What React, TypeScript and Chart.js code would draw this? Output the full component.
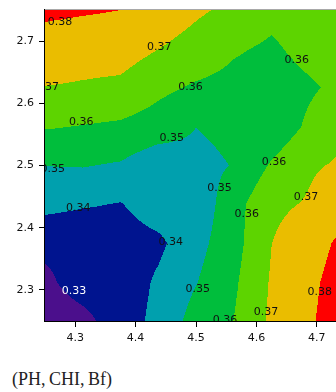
import React, { useEffect, useLayoutEffect, useRef } from 'react';
import { Chart, registerables } from 'chart.js';

Chart.register(...registerables);

// Grid of the response surface (PH on x, CHI on y)
const xGrid = [4.25, 4.3125, 4.375, 4.4375, 4.5, 4.5625, 4.625, 4.6875, 4.75];
const yGrid = [2.25, 2.3125, 2.375, 2.4375, 2.5, 2.5625, 2.625, 2.6875, 2.75];

// Bf values, one row per CHI level (bottom to top), one entry per PH level
const zRow0 = [0.325, 0.3275, 0.3346, 0.343, 0.3538, 0.3601, 0.3718, 0.3788, 0.3859];
const zRow1 = [0.3282, 0.3339, 0.334, 0.3415, 0.3496, 0.3584, 0.371, 0.378, 0.3849];
const zRow2 = [0.3319, 0.3323, 0.3355, 0.338, 0.3467, 0.3564, 0.3699, 0.376, 0.3828];
const zRow3 = [0.343, 0.3409, 0.3395, 0.3451, 0.3433, 0.3562, 0.368, 0.3709, 0.3779];
const zRow4 = [0.3501, 0.3505, 0.349, 0.3433, 0.3466, 0.3505, 0.3611, 0.3688, 0.3716];
const zRow5 = [0.3608, 0.3596, 0.3584, 0.3555, 0.3501, 0.353, 0.3532, 0.3618, 0.3696];
const zRow6 = [0.3698, 0.3689, 0.3678, 0.3623, 0.3587, 0.3569, 0.355, 0.3586, 0.3632];
const zRow7 = [0.3755, 0.3745, 0.3745, 0.3701, 0.3663, 0.3611, 0.3585, 0.3632, 0.366];
const zRow8 = [0.382, 0.381, 0.38, 0.376, 0.3715, 0.3679, 0.3627, 0.365, 0.367];
const zRows = [zRow0, zRow1, zRow2, zRow3, zRow4, zRow5, zRow6, zRow7, zRow8];

// Contour levels and band colours (below first level ... above last level)
const levels = [0.33, 0.34, 0.35, 0.36, 0.37, 0.38];
const bandColors = ['#4b0f8c', '#00148f', '#00a0ae', '#00be3c', '#5dd400', '#eabd00', '#ff0000'];

// Contour labels
const labelText = ['0.38', '0.37', '0.36', '0.35', '0.34', '0.33', '0.37', '0.36', '0.35', '0.36', '0.36', '0.35', '0.36', '0.37', '0.34', '0.35', '0.36', '0.37', '0.38'];
const labelX = [4.275, 4.253, 4.31, 4.263, 4.305, 4.298, 4.439, 4.491, 4.46, 4.667, 4.629, 4.539, 4.584, 4.682, 4.458, 4.503, 4.548, 4.616, 4.705];
const labelY = [2.731, 2.626, 2.57, 2.494, 2.432, 2.298, 2.691, 2.626, 2.544, 2.669, 2.506, 2.463, 2.421, 2.449, 2.376, 2.301, 2.252, 2.265, 2.297];

// Axis ticks
const xTickValues = [4.3, 4.4, 4.5, 4.6, 4.7];
const yTickValues = [2.3, 2.4, 2.5, 2.6, 2.7];
const xRange = [4.25, 4.75];
const yRange = [2.25, 2.75];

function hexToRgb(h: string) {
  const n = parseInt(h.slice(1), 16);
  return [(n >> 16) & 255, (n >> 8) & 255, n & 255];
}

function locate(grid: number[], v: number) {
  let k = 0;
  while (k < grid.length - 2 && v > grid[k + 1]) k++;
  let t = (v - grid[k]) / (grid[k + 1] - grid[k]);
  if (t < 0) t = 0;
  if (t > 1) t = 1;
  return [k, t];
}

function zAt(x: number, y: number) {
  const [i, tx] = locate(xGrid, x);
  const [j, ty] = locate(yGrid, y);
  const z00 = zRows[j][i], z10 = zRows[j][i + 1];
  const z01 = zRows[j + 1][i], z11 = zRows[j + 1][i + 1];
  const b = z00 + (z10 - z00) * tx;
  const t = z01 + (z11 - z01) * tx;
  return b + (t - b) * ty;
}

const contourPlugin = {
  id: 'contourFill',
  beforeDatasetsDraw(chart: any) {
    const { ctx, chartArea, scales } = chart;
    const xs = scales.x, ys = scales.y;
    const dpr = chart.currentDevicePixelRatio || 1;
    const left = Math.round(chartArea.left * dpr);
    const top = Math.round(chartArea.top * dpr);
    const w = Math.round(chartArea.right * dpr) - left;
    const h = Math.round(chartArea.bottom * dpr) - top;
    const img = ctx.createImageData(w, h);
    const rgb = bandColors.map(hexToRgb);
    const xv: number[] = [];
    for (let px = 0; px < w; px++) xv.push(xs.getValueForPixel((left + px + 0.5) / dpr));
    for (let py = 0; py < h; py++) {
      const yv = ys.getValueForPixel((top + py + 0.5) / dpr);
      for (let px = 0; px < w; px++) {
        const z = zAt(xv[px], yv);
        let b = 0;
        while (b < levels.length && z >= levels[b]) b++;
        const c = rgb[b];
        const o = (py * w + px) * 4;
        img.data[o] = c[0];
        img.data[o + 1] = c[1];
        img.data[o + 2] = c[2];
        img.data[o + 3] = 255;
      }
    }
    ctx.putImageData(img, left, top);
  },
  afterDatasetsDraw(chart: any) {
    const { ctx, chartArea, scales } = chart;
    ctx.save();
    ctx.beginPath();
    ctx.rect(chartArea.left, chartArea.top, chartArea.right - chartArea.left, chartArea.bottom - chartArea.top);
    ctx.clip();
    ctx.font = '11px "DejaVu Sans"';
    ctx.textAlign = 'center';
    ctx.textBaseline = 'middle';
    labelText.forEach((t, k) => {
      const x = scales.x.getPixelForValue(labelX[k]);
      const y = scales.y.getPixelForValue(labelY[k]);
      ctx.fillStyle = t === '0.33' ? '#ffffff' : '#111111';
      ctx.fillText(t, x, y);
    });
    ctx.restore();
  },
  afterDraw(chart: any) {
    const { ctx, chartArea } = chart;
    ctx.save();
    ctx.strokeStyle = '#a8a8a8';
    ctx.lineWidth = 1;
    ctx.beginPath();
    ctx.moveTo(chartArea.left, chartArea.top - 0.5);
    ctx.lineTo(chartArea.right, chartArea.top - 0.5);
    ctx.stroke();
    ctx.restore();
  },
};

function noPad(s: any) {
  s.paddingTop = 0;
  s.paddingBottom = 0;
  s.paddingLeft = 0;
  s.paddingRight = 0;
}

export default function App() {
  const ref = useRef<HTMLCanvasElement | null>(null);

  useLayoutEffect(() => {
    const prevMargin = document.body.style.margin;
    document.body.style.margin = '0';
    return () => {
      document.body.style.margin = prevMargin;
    };
  }, []);

  useEffect(() => {
    if (!ref.current) return;
    const nodes: { x: number; y: number }[] = [];
    yGrid.forEach((y) => xGrid.forEach((x) => nodes.push({ x, y })));
    const tickFont = { family: 'DejaVu Sans', size: 11 };
    const chart = new Chart(ref.current, {
      type: 'scatter',
      data: {
        datasets: [
          { label: 'grid', data: nodes, pointRadius: 0, pointHoverRadius: 0, showLine: false },
        ],
      },
      options: {
        responsive: false,
        animation: false,
        events: [],
        layout: { padding: { top: 2, left: 0, right: 0, bottom: 0 } },
        plugins: { legend: { display: false }, tooltip: { enabled: false }, title: { display: false } },
        scales: {
          x: {
            type: 'linear',
            min: xRange[0],
            max: xRange[1],
            z: 1,
            afterBuildTicks: (s: any) => {
              s.ticks = xTickValues.map((v) => ({ value: v }));
            },
            afterFit: (s: any) => {
              s.height = 30;
              noPad(s);
            },
            grid: { drawOnChartArea: false, drawTicks: true, tickLength: 6, color: '#000', lineWidth: 1 },
            border: { display: true, color: '#000', width: 2 },
            ticks: {
              font: tickFont,
              color: '#111',
              padding: 5,
              maxRotation: 0,
              autoSkip: false,
              callback: (v: any) => Number(v).toFixed(1),
            },
          },
          y: {
            type: 'linear',
            min: yRange[0],
            max: yRange[1],
            z: 1,
            afterBuildTicks: (s: any) => {
              s.ticks = yTickValues.map((v) => ({ value: v }));
            },
            afterFit: (s: any) => {
              s.width = 37;
              noPad(s);
            },
            grid: { drawOnChartArea: false, drawTicks: true, tickLength: 6, color: '#000', lineWidth: 1 },
            border: { display: true, color: '#000', width: 2 },
            ticks: {
              font: tickFont,
              color: '#111',
              padding: 5,
              autoSkip: false,
              callback: (v: any) => Number(v).toFixed(1),
            },
          },
        },
      },
      plugins: [contourPlugin],
    } as any);
    return () => chart.destroy();
  }, []);

  return (
    <div style={{ position: 'relative', width: 336, height: 392, overflow: 'hidden', background: '#fff' }}>
      <canvas
        ref={ref}
        width={339}
        height={343}
        style={{ position: 'absolute', left: 8, top: 8, display: 'block' }}
      />
      <div
        style={{
          position: 'absolute',
          left: 12,
          top: 369,
          fontFamily: '"Liberation Serif", serif',
          fontSize: 18,
          lineHeight: 'normal',
          wordSpacing: -1,
          color: '#222',
          whiteSpace: 'nowrap',
        }}
      >
        (PH, CHI, Bf)
      </div>
    </div>
  );
}
